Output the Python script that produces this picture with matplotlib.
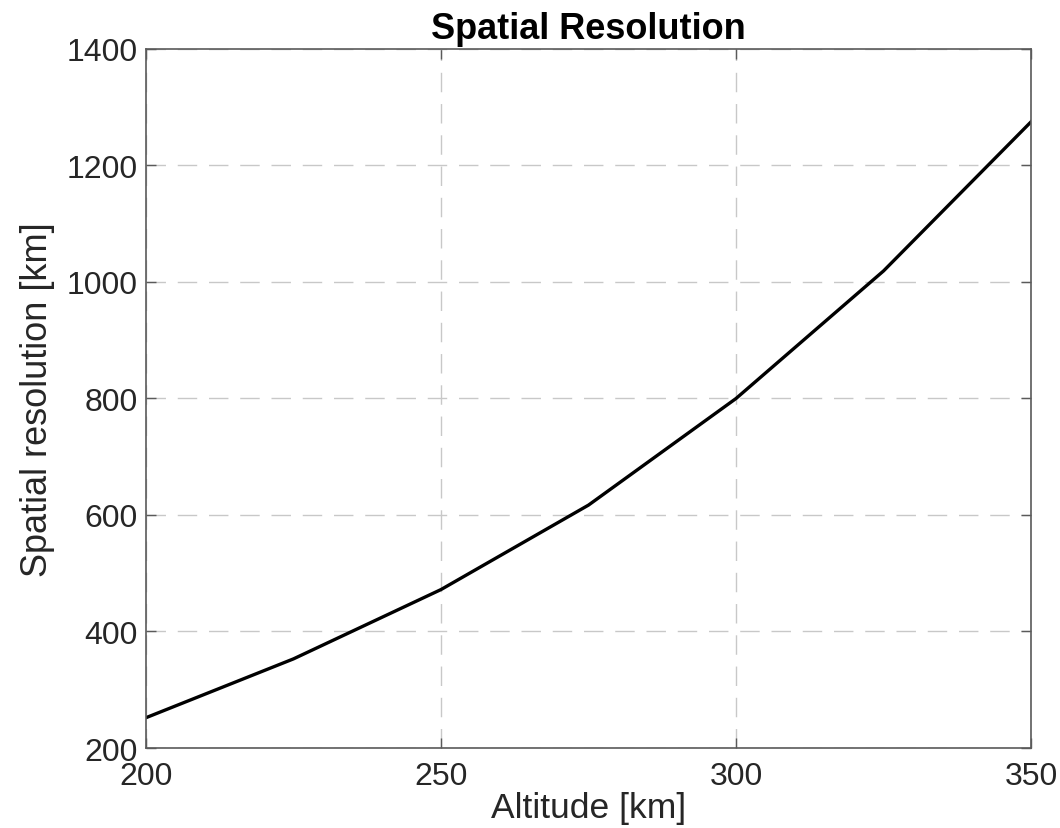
import matplotlib
matplotlib.use('Agg')
import matplotlib.pyplot as plt

altitude = [200, 225, 250, 275, 300, 325, 350]
resolution = [252, 353, 472, 617, 800, 1019, 1275]
x_ticks = [200, 250, 300, 350]
y_ticks = [200, 400, 600, 800, 1000, 1200, 1400]

plt.rcParams['font.family'] = ['Liberation Sans', 'DejaVu Sans']

fig = plt.figure(figsize=(10.6, 8.29), dpi=100)
ax = fig.add_axes([0.1377, 0.0965, 0.835, 0.8432])

ax.plot(altitude, resolution, color='black', linewidth=2.4)

ax.set_xlim(200, 350)
ax.set_ylim(200, 1400)
ax.set_xticks(x_ticks)
ax.set_yticks(y_ticks)
ax.grid(True, color='#c8c8c8', linestyle=(0, (14, 8.5)), linewidth=1.0)
ax.set_axisbelow(True)

for s in ax.spines.values():
    s.set_color('#5a5a5a')
    s.set_linewidth(1.2)
ax.tick_params(direction='in', top=True, right=True, length=7, width=1.0,
               color='#5a5a5a', labelsize=23, labelcolor='#262626')
ax.tick_params(axis='x', pad=9)
ax.tick_params(axis='y', pad=6)

ax.set_xlabel('Altitude [km]', fontsize=25.5, labelpad=0, color='#262626')
ax.set_ylabel('Spatial resolution [km]', fontsize=26, labelpad=8, color='#262626')
ax.set_title('Spatial Resolution', fontsize=26, fontweight='bold', pad=8)

fig.savefig('out.png', dpi=100, facecolor='white')
